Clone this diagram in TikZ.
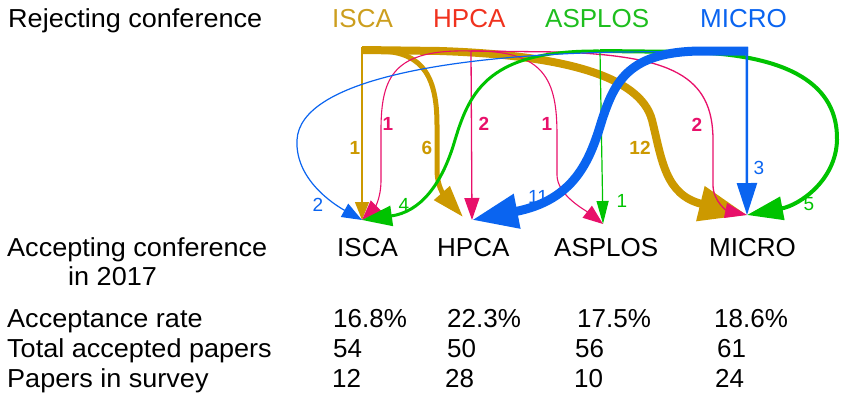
\documentclass[tikz,border=0pt]{standalone}
\usepackage{fontspec}
\setmainfont{Liberation Sans}
\newfontfamily\widefont{Liberation Sans}[FakeStretch=1.04]
\usetikzlibrary{arrows.meta,calc}
\definecolor{cgold}{RGB}{204,153,0}
\definecolor{cgoldt}{RGB}{204,158,30}
\definecolor{cmag}{RGB}{232,16,106}
\definecolor{cred}{RGB}{240,50,30}
\definecolor{cgreen}{RGB}{0,195,0}
\definecolor{cgreent}{RGB}{30,190,30}
\definecolor{cblue}{RGB}{10,100,240}
\begin{document}
\begin{tikzpicture}[x=1pt,y=-1pt,
  lbl/.style={font=\fontsize{26}{30}\selectfont, anchor=base west, inner sep=0pt},
  wlbl/.style={font=\widefont\fontsize{26}{30}\selectfont, anchor=base west, inner sep=0pt},
  num/.style={font=\fontsize{19}{22}\selectfont, inner sep=0pt},
  numb/.style={font=\fontsize{19}{22}\selectfont\bfseries, inner sep=0pt},
  flow/.style={line cap=butt, line join=round}]
\useasboundingbox (0,0) rectangle (844,400);

% header texts
\node[wlbl] (rej) at (8,27) {Rejecting conference};
\node[lbl,text=cgoldt] (hI) at (332,27) {ISCA};
\node[lbl,text=cred] (hH) at (433,27) {HPCA};
\node[lbl,text=cgreent] (hA) at (545,27) {ASPLOS};
\node[lbl,text=cblue] (hM) at (700,27) {MICRO};

% bottom texts
\node[wlbl] (acc) at (7,256) {Accepting conference};
\node[wlbl] (acc2) at (68,285) {in 2017};
\node[lbl] (bI) at (337,256) {ISCA};
\node[lbl] (bH) at (437,256) {HPCA};
\node[lbl] (bA) at (554,256) {ASPLOS};
\node[lbl] (bM) at (709,256) {MICRO};

\node[wlbl] (rate) at (7,327) {Acceptance rate};
\node[wlbl] (tot) at (7,357) {Total accepted papers};
\node[wlbl] (surv) at (7,387) {Papers in survey};

\node[lbl] (r1) at (333,327) {16.8\%};
\node[lbl] (r2) at (447,327) {22.3\%};
\node[lbl] (r3) at (577,327) {17.5\%};
\node[lbl] (r4) at (714,327) {18.6\%};
\node[lbl] (t1) at (333,357) {54};
\node[lbl] (t2) at (447,357) {50};
\node[lbl] (t3) at (575,357) {56};
\node[lbl] (t4) at (717,357) {61};
\node[lbl] (s1) at (332,387) {12};
\node[lbl] (s2) at (445,387) {28};
\node[lbl] (s3) at (574,387) {10};
\node[lbl] (s4) at (715,387) {24};

% sources and targets
\coordinate (sI) at (362,50);
\coordinate (sH) at (471,51);
\coordinate (sA) at (600,51);
\coordinate (sM) at (748,51);
\coordinate (tI) at (362,220);
\coordinate (tH) at (472,220);
\coordinate (tA) at (603,224);
\coordinate (tM) at (747,215);

% gold flows (ISCA)
\draw[flow,cgold,line width=8pt,-{Triangle[length=48pt,width=34pt]}]
  (sI) -- (440,51) .. controls (560,55) and (640,75) .. (652,120)
  .. controls (662,160) and (665,195) .. (tM);
\draw[flow,cgold,line width=5pt,-{Triangle[length=32pt,width=20pt]}]
  (sI) -- (380,51) .. controls (425,52) and (437,80) .. (437,125) -- (437,170)
  .. controls (437,190) and (448,200) .. ($(tH)+(-9,-3)$);
\draw[flow,cgold,line width=1.3pt,-{Triangle[length=18pt,width=14pt]}]
  ($(sI)+(0,-3)$) -- (tI);

% magenta flows (HPCA)
\draw[flow,cmag,line width=1.1pt,-{Triangle[length=20pt,width=15pt]}]
  (sH) .. controls (395,49) and (381,75) .. (381,130) -- (381,180)
  .. controls (381,198) and (375,207) .. (tI);
\draw[flow,cmag,line width=1.3pt,-{Triangle[length=22pt,width=15pt]}]
  (sH) -- (tH);
\draw[flow,cmag,line width=1.1pt,-{Triangle[length=20pt,width=15pt]}]
  (sH) .. controls (545,50) and (557,80) .. (557,135) -- (557,175)
  .. controls (557,195) and (585,210) .. (tA);
\draw[flow,cmag,line width=1.3pt,-{Triangle[length=22pt,width=15pt]}]
  (sH) -- (560,52) .. controls (670,56) and (713,75) .. (713,140) -- (713,185)
  .. controls (713,202) and (728,211) .. (tM);

% green flows (ASPLOS)
\draw[flow,cgreen,line width=3pt,-{Triangle[length=30pt,width=20pt]}]
  (sA) .. controls (490,50) and (470,90) .. (455,140)
  .. controls (442,185) and (420,212) .. (tI);
\draw[flow,cgreen,line width=1.2pt,-{Triangle[length=23pt,width=12pt]}]
  (sA) -- (tA);
\draw[flow,cgreen,line width=4pt,-{Triangle[length=36pt,width=23pt]}]
  (sA) -- (690,52) .. controls (790,55) and (838,85) .. (837,140)
  .. controls (836,180) and (800,205) .. (tM);

% blue flows (MICRO)
\draw[flow,cblue,line width=1.2pt,-{Triangle[length=20pt,width=15pt]}]
  (sM) -- (620,52) .. controls (450,55) and (300,80) .. (297,140)
  .. controls (295,180) and (335,205) .. (tI);
\draw[flow,cblue,line width=9pt,-{Triangle[length=46pt,width=33pt]}]
  (sM) -- (700,51) .. controls (630,52) and (615,80) .. (602,120)
  .. controls (590,160) and (575,200) .. (tH);
\draw[flow,cblue,line width=2.5pt,-{Triangle[length=32pt,width=20pt]}]
  ($(sM)+(-1.25,-4)$) -- (tM);

% flow labels
\node[numb,text=cgold] (n1) at (355,148) {1};
\node[numb,text=cmag] (n2) at (388,124) {1};
\node[numb,text=cgold] (n3) at (427,148) {6};
\node[numb,text=cmag] (n4) at (484,124) {2};
\node[numb,text=cmag] (n5) at (547,124) {1};
\node[numb,text=cgold] (n6) at (640,148) {12};
\node[numb,text=cmag] (n7) at (697,125) {2};
\node[num,text=cblue] (n8) at (759,168) {3};
\node[num,text=cblue] (n9) at (318,205) {2};
\node[num,text=cgreen] (n10) at (404,205) {4};
\node[num,text=cblue] (n11) at (538,197) {11};
\node[num,text=cgreen] (n12) at (622,201) {1};
\node[num,text=cgreen] (n13) at (809,204) {5};
\end{tikzpicture}
\end{document}
